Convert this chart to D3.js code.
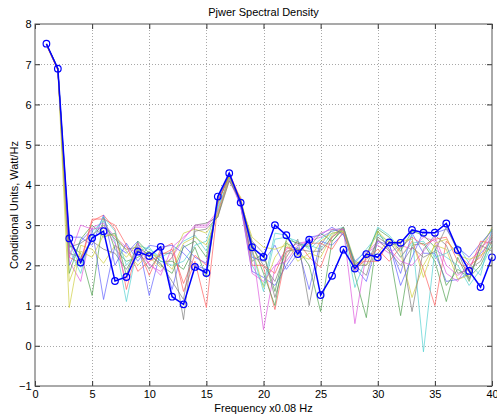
<!DOCTYPE html>
<html><head><meta charset="utf-8">
<script src="https://cdn.jsdelivr.net/npm/d3@7"></script>
<style>body{margin:0;background:#fff}svg{display:block}text{font-family:"Liberation Sans",Arial,sans-serif}</style>
</head><body>
<svg id="c" width="497" height="417"></svg>
<script>
const title = "Pjwer Spectral Density";
const xLabel = "Frequency x0.08 Hz";
const yLabel = "Conditional Units, Watt/Hz";
const xTicks = [0,5,10,15,20,25,30,35,40];
const yTicks = [-1,0,1,2,3,4,5,6,7,8];
const freq = d3.range(1,41);

const s0 = [7.5,6.9,2.0,2.6,2.9,1.15,2.5,2.3,2.6,1.25,2.35,1.4,2.5,2.2,2.05,3.6,4.25,3.5,1.85,1.7,1.5,2.0,2.45,1.4,2.6,2.5,2.8,1.95,1.6,2.6,2.5,1.8,2.8,2.3,2.3,1.6,1.65,1.8,2.3,2.6];
const s1 = [7.49,6.88,2.5,2.3,1.25,3.2,2.4,2.1,2.2,2.35,2.1,2.1,1.9,2.45,1.7,3.7,4.2,3.6,2.1,2.3,1.35,2.55,2.4,2.0,0.85,2.6,2.95,1.75,0.7,2.85,2.4,0.75,2.5,2.55,2.1,1.1,2.2,1.6,2.5,2.9];
const s2 = [7.5,6.85,2.2,2.05,3.1,3.25,2.9,1.4,2.45,1.75,2.4,2.55,1.35,2.1,0.95,3.5,4.3,3.65,2.3,1.95,0.9,2.3,2.6,2.2,1.95,2.7,2.9,2.05,2.1,2.1,2.6,2.2,2.6,1.9,1.0,2.6,2.3,2.0,2.2,2.75];
const s3 = [7.48,6.9,2.4,1.8,2.85,3.1,2.6,1.1,2.5,2.4,2.2,2.35,2.6,2.75,2.35,3.4,4.15,3.55,2.0,1.5,2.8,2.75,2.5,2.5,2.4,2.8,2.85,1.45,2.2,2.95,2.75,2.4,2.75,-0.15,2.4,2.2,2.0,1.5,1.9,2.5];
const s4 = [7.5,6.87,2.1,1.6,2.95,3.05,2.7,2.45,2.3,2.05,1.75,2.45,2.7,2.95,2.95,3.3,4.2,3.5,2.5,0.4,1.95,2.4,2.55,2.6,2.7,2.85,2.9,0.55,2.3,2.5,2.3,2.5,2.4,2.7,2.6,1.8,1.6,2.1,2.4,2.8];
const s5 = [7.47,6.86,0.95,2.5,2.4,2.05,2.5,2.2,2.55,2.2,1.95,2.2,2.8,2.9,2.8,3.25,4.1,3.7,2.4,1.45,2.2,2.6,2.1,2.3,2.2,2.75,2.95,2.1,2.0,2.3,2.65,2.3,1.2,2.0,2.5,2.4,1.65,1.75,2.35,2.95];
const s6 = [7.5,6.9,2.3,2.2,2.6,2.4,2.3,1.9,2.4,1.9,2.3,2.3,0.65,3.0,3.05,3.2,4.25,3.6,2.6,2.3,1.2,2.2,2.65,1.0,2.5,2.9,2.8,2.0,1.75,2.7,2.5,2.55,0.85,2.4,2.75,2.5,1.8,1.9,2.1,2.7];
const s7 = [7.49,6.88,2.7,2.7,2.5,3.25,2.0,2.55,2.1,2.5,2.45,2.5,2.3,2.0,1.9,3.65,4.28,3.45,2.2,2.1,2.5,1.9,2.3,2.7,2.75,2.95,2.75,2.1,2.35,2.2,2.55,1.5,2.2,2.85,2.8,2.9,2.45,2.2,2.55,2.85];
const s8 = [7.5,6.9,1.8,2.65,3.0,2.7,2.8,1.75,2.6,2.3,2.0,1.8,2.45,2.6,2.2,3.55,4.22,3.55,2.55,1.8,1.0,2.65,2.55,2.45,2.8,2.6,2.9,2.0,2.25,2.9,2.7,2.35,2.85,2.75,2.45,1.5,1.9,1.7,2.0,2.6];
const s9 = [7.48,6.85,2.6,2.1,3.15,3.15,3.0,2.5,1.85,2.1,2.25,2.4,1.55,2.25,2.0,3.6,4.18,3.65,2.0,2.0,1.8,2.45,2.35,2.55,2.55,2.4,2.85,1.9,2.15,2.4,2.1,2.45,2.7,2.5,2.65,2.7,2.1,1.85,2.6,2.55];
const s10 = [7.5,6.89,2.55,1.95,2.7,3.2,2.85,2.0,2.35,2.45,2.1,2.0,2.1,2.5,2.6,3.45,4.15,3.6,2.35,1.35,2.65,2.7,2.6,2.4,2.65,2.85,2.95,2.05,2.4,2.75,2.6,2.2,2.55,2.6,2.2,2.3,2.5,2.05,1.75,2.9];
const s11 = [7.49,6.87,2.2,3.0,2.9,2.95,2.55,1.6,2.55,2.0,1.85,2.2,2.65,3.0,3.0,3.35,4.12,3.5,1.8,1.6,2.0,2.1,2.5,2.6,2.8,2.9,2.9,1.85,2.3,2.6,2.4,2.1,2.0,2.35,2.7,2.0,1.75,1.95,2.45,2.65];
const s12 = [7.5,6.9,1.6,2.35,2.2,2.75,2.75,2.35,2.0,2.3,2.2,1.9,2.55,2.7,2.5,3.3,4.2,3.55,2.7,2.45,2.4,2.5,2.25,2.15,2.6,2.8,2.85,1.95,2.2,2.85,2.55,2.6,2.65,1.7,2.55,2.65,2.25,2.15,2.25,2.45];
const s13 = [7.5,6.88,2.45,2.55,2.75,3.0,2.65,2.4,2.45,2.25,2.05,1.6,1.15,2.85,2.9,3.2,4.1,3.6,2.45,2.0,1.6,2.35,2.4,2.35,2.35,2.7,2.95,2.0,2.0,2.65,2.35,2.0,2.45,2.2,2.35,2.95,2.35,1.65,2.5,2.35];
const mainSeries = [7.51,6.89,2.67,2.07,2.68,2.85,1.61,1.71,2.34,2.23,2.46,1.22,1.03,1.96,1.81,3.71,4.29,3.56,2.45,2.21,3.0,2.75,2.28,2.64,1.26,1.74,2.39,1.92,2.28,2.2,2.57,2.56,2.88,2.81,2.81,3.04,2.38,1.86,1.46,2.2];

const thin = [s0,s1,s2,s3,s4,s5,s6,s7,s8,s9,s10,s11,s12,s13];
const palette = ["#5a5aff","#4c9e4c","#ff5a5a","#4dcfcf","#dd55dd","#cccc3a","#7a7a7a"];

const W=497,H=417, L=35, R=492, T=24, B=386;
const svg = d3.select("#c");
svg.append("rect").attr("width",W).attr("height",H).attr("fill","#fff");
const x = d3.scaleLinear().domain([0,40]).range([L,R]);
const y = d3.scaleLinear().domain([-1,8]).range([B,T]);

// grid
const g = svg.append("g");
g.selectAll(".gx").data(xTicks.slice(1,-1)).join("line")
 .attr("x1",d=>Math.round(x(d))+0.5).attr("x2",d=>Math.round(x(d))+0.5).attr("y1",T).attr("y2",B)
 .attr("stroke","#a8a8a8").attr("stroke-width",1).attr("stroke-dasharray","1,2");
g.selectAll(".gy").data(yTicks.slice(1,-1)).join("line")
 .attr("y1",d=>Math.round(y(d))+0.5).attr("y2",d=>Math.round(y(d))+0.5).attr("x1",L).attr("x2",R)
 .attr("stroke","#a8a8a8").attr("stroke-width",1).attr("stroke-dasharray","1,2");

const line = d3.line().x((d,i)=>x(freq[i])).y(d=>y(d));
svg.append("g").selectAll("path").data(thin).join("path")
 .attr("d",line).attr("fill","none")
 .attr("stroke",(d,i)=>palette[i%7]).attr("stroke-width",0.8).attr("opacity",0.85);

svg.append("path").datum(mainSeries).attr("d",line).attr("fill","none")
 .attr("stroke","#0000ff").attr("stroke-width",1.5);
svg.append("g").selectAll("circle").data(mainSeries).join("circle")
 .attr("cx",(d,i)=>x(freq[i])).attr("cy",d=>y(d)).attr("r",3.3)
 .attr("fill","none").attr("stroke","#0000ff").attr("stroke-width",1.2);

// axes (ticks inside, on all four sides)
const mk = (a)=>a.tickSizeInner(-5).tickSizeOuter(0);
const gx = svg.append("g").attr("transform",`translate(0,${B})`).call(mk(d3.axisBottom(x).tickValues(xTicks)));
const gy = svg.append("g").attr("transform",`translate(${L},0)`).call(mk(d3.axisLeft(y).tickValues(yTicks)));
const gxt = svg.append("g").attr("transform",`translate(0,${T})`).call(mk(d3.axisTop(x).tickValues(xTicks)).tickFormat(""));
const gyr = svg.append("g").attr("transform",`translate(${R},0)`).call(mk(d3.axisRight(y).tickValues(yTicks)).tickFormat(""));
[gx,gy,gxt,gyr].forEach(a=>{a.select(".domain").remove(); a.selectAll("line").attr("stroke","#333"); a.selectAll("text").attr("font-size",11).attr("fill","#000").style("font-family","Liberation Sans, Arial, sans-serif");});
gx.selectAll("text").attr("y",4).attr("dy","0.71em");
gy.selectAll("text").attr("x",-3.5).attr("dy","0.35em");
svg.append("rect").attr("x",L).attr("y",T).attr("width",R-L).attr("height",B-T)
 .attr("fill","none").attr("stroke","#555").attr("stroke-width",1);

svg.append("text").attr("x",(L+R)/2).attr("y",16).attr("text-anchor","middle").attr("font-size",11).text(title);
svg.append("text").attr("x",(L+R)/2).attr("y",412).attr("text-anchor","middle").attr("font-size",11).text(xLabel);
svg.append("text").attr("transform",`translate(18,${(T+B)/2}) rotate(-90)`).attr("text-anchor","middle").attr("font-size",11).text(yLabel);
</script>
</body></html>
